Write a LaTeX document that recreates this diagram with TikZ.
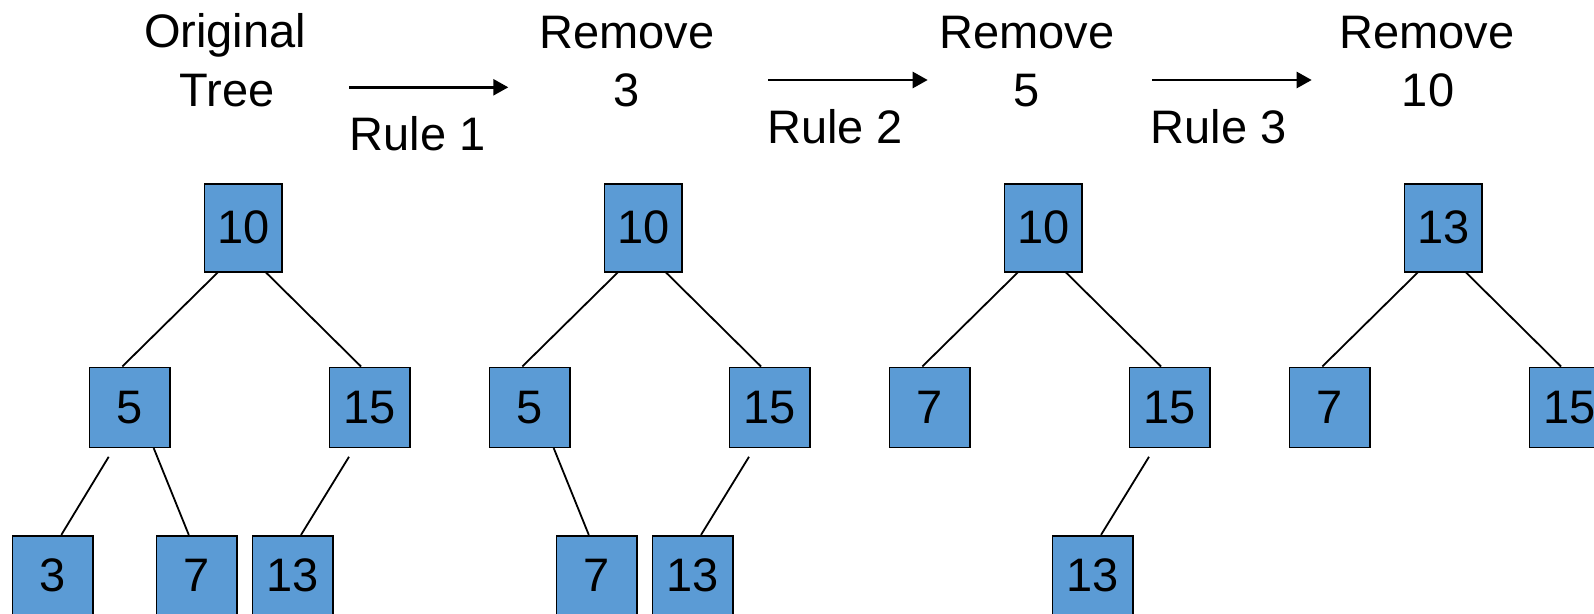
\documentclass[tikz,border=0pt]{standalone}
\usepackage{fontspec}
\setmainfont{Liberation Sans}
\usetikzlibrary{arrows.meta}
\definecolor{boxblue}{RGB}{91,155,213}
\tikzset{
  x=1pt,y=-1pt,
  lbl/.style={inner sep=0pt,font=\fontsize{47}{58}\selectfont},
  tbox/.style={draw=black,line width=1.6pt,fill=boxblue,inner sep=0pt,
    minimum width=80.5pt,minimum height=80pt,font=\fontsize{47}{58}\selectfont},
  rootbox/.style={tbox,minimum width=77.3pt,minimum height=88pt},
  edge/.style={draw=black,line width=1.8pt},
  rulearrow/.style={draw=black,line width=2.5pt,-{Triangle[length=15pt,width=16pt]}}
}
\begin{document}
\begin{tikzpicture}
\useasboundingbox (0,0) rectangle (1594,613);
% headers
\node[lbl,anchor=base] (h1a) at (225,47.5) {Original};
\node[lbl,anchor=base] (h1b) at (227,106) {Tree};
\node[lbl,anchor=base] (h2a) at (627,48.3) {Remove};
\node[lbl,anchor=base] (h2b) at (627,106) {3};
\node[lbl,anchor=base] (h3a) at (1027,48.3) {Remove};
\node[lbl,anchor=base] (h3b) at (1027,106) {5};
\node[lbl,anchor=base] (h4a) at (1427,48.3) {Remove};
\node[lbl,anchor=base] (h4b) at (1428,106) {10};
% rule arrows
\coordinate (a1s) at (349.3,87.3);
\coordinate (a1e) at (508.3,87.3);
\coordinate (a2s) at (768.3,80);
\coordinate (a2e) at (927.7,80);
\coordinate (a3s) at (1152.3,80);
\coordinate (a3e) at (1311.7,80);
\draw[rulearrow] (a1s) -- (a1e);
\draw[rulearrow] (a2s) -- (a2e);
\draw[rulearrow] (a3s) -- (a3e);
\node[lbl,anchor=base west] (r1) at (349.5,150) {Rule 1};
\node[lbl,anchor=base west] (r2) at (767,143.3) {Rule 2};
\node[lbl,anchor=base west] (r3) at (1150.5,143.3) {Rule 3};
% tree 1
\node[rootbox] (t1r) at (243.3,227.7) {10};
\node[tbox] (t1a) at (129.7,407.3) {5};
\node[tbox] (t1b) at (369.7,407.3) {15};
\node[tbox] (t1c) at (52.8,575.7) {3};
\node[tbox] (t1d) at (196.8,575.7) {7};
\node[tbox] (t1e) at (292.8,575.7) {13};
\draw[edge] ([xshift=-25.6pt]t1r.south) -- ([xshift=-7.4pt]t1a.north);
\draw[edge] ([xshift=22.7pt]t1r.south) -- ([xshift=-8.7pt]t1b.north);
\draw[edge] ([shift={(-21,8.7)}]t1a.south) -- ([xshift=8.5pt]t1c.north);
\draw[edge] ([xshift=24pt]t1a.south) -- ([xshift=-8pt]t1d.north);
\draw[edge] ([shift={(-20.7,8.7)}]t1b.south) -- ([xshift=8.2pt]t1e.north);
% tree 2
\node[rootbox] (t2r) at (643.3,227.7) {10};
\node[tbox] (t2a) at (529.7,407.3) {5};
\node[tbox] (t2b) at (769.7,407.3) {15};
\node[tbox] (t2d) at (596.8,575.7) {7};
\node[tbox] (t2e) at (692.8,575.7) {13};
\draw[edge] ([xshift=-25.6pt]t2r.south) -- ([xshift=-7.4pt]t2a.north);
\draw[edge] ([xshift=22.7pt]t2r.south) -- ([xshift=-8.7pt]t2b.north);
\draw[edge] ([xshift=24pt]t2a.south) -- ([xshift=-8pt]t2d.north);
\draw[edge] ([shift={(-20.7,8.7)}]t2b.south) -- ([xshift=8.2pt]t2e.north);
% tree 3
\node[rootbox] (t3r) at (1043.3,227.7) {10};
\node[tbox] (t3a) at (929.7,407.3) {7};
\node[tbox] (t3b) at (1169.7,407.3) {15};
\node[tbox] (t3e) at (1092.8,575.7) {13};
\draw[edge] ([xshift=-25.6pt]t3r.south) -- ([xshift=-7.4pt]t3a.north);
\draw[edge] ([xshift=22.7pt]t3r.south) -- ([xshift=-8.7pt]t3b.north);
\draw[edge] ([shift={(-20.7,8.7)}]t3b.south) -- ([xshift=8.2pt]t3e.north);
% tree 4
\node[rootbox] (t4r) at (1443.3,227.7) {13};
\node[tbox] (t4a) at (1329.7,407.3) {7};
\node[tbox] (t4b) at (1569.7,407.3) {15};
\draw[edge] ([xshift=-25.6pt]t4r.south) -- ([xshift=-7.4pt]t4a.north);
\draw[edge] ([xshift=22.7pt]t4r.south) -- ([xshift=-8.7pt]t4b.north);
\end{tikzpicture}
\end{document}
